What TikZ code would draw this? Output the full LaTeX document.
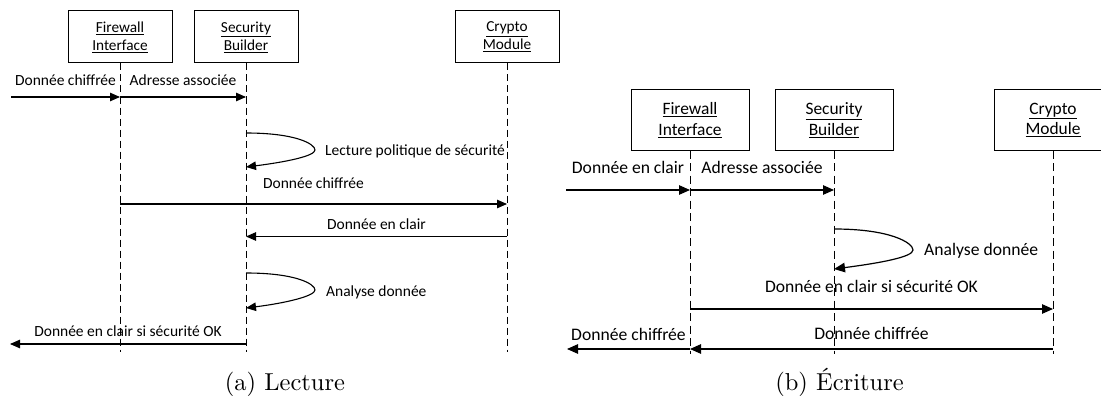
\documentclass[tikz,border=0pt]{standalone}
\usepackage{fontspec}
\newfontfamily\carlito{Carlito}
\usetikzlibrary{arrows.meta}
\tikzset{
  obj/.style={draw, fill=white, align=center, inner sep=0pt, line width=1pt},
  objA/.style={obj, minimum width=104pt, minimum height=52pt,
    font=\carlito\fontsize{15.3}{18}\selectfont},
  objB/.style={obj, minimum width=118pt, minimum height=60pt,
    font=\carlito\fontsize{17.4}{20.5}\selectfont},
  lifeA/.style={line width=1pt, dash pattern=on 7pt off 4pt},
  lifeB/.style={line width=1pt, dash pattern=on 8pt off 4.5pt},
  msgA/.style={line width=1.1pt, -{Triangle[length=10pt,width=8.5pt]}},
  msgB/.style={line width=1.2pt, -{Triangle[length=11pt,width=9.5pt]}},
  lblA/.style={font=\carlito\fontsize{15.5}{18}\selectfont, anchor=base, inner sep=0pt},
  lblB/.style={font=\carlito\fontsize{17.6}{20.5}\selectfont, anchor=base, inner sep=0pt},
  capt/.style={font=\fontsize{10}{12}\selectfont, anchor=base, inner sep=0pt,
    scale=2.45, transform shape},
}
\begin{document}
\begin{tikzpicture}[x=1pt,y=-1pt]
\useasboundingbox (0,0) rectangle (1101,396);
\clip (0,0) rectangle (1101,396);

% ---------- (a) Lecture ----------
\node[objA] (fwA) at (120,37) {\underline{Firewall}\\\underline{Interface}};
\node[objA] (sbA) at (246,37) {\underline{Security}\\\underline{Builder}};
\node[objA] (cmA) at (507,37) {\underline{Crypto}\\\underline{Module}};
\coordinate (endA) at (0,352);
\foreach \n in {fwA,sbA,cmA} \draw[lifeA] (\n.south) -- (\n.south |- endA);

\coordinate (rowA1) at (11,97);
\coordinate (loopA1s) at (246,133);
\coordinate (loopA1t) at (315,150);
\coordinate (loopA1e) at (246,167);
\coordinate (rowA2) at (0,204);
\coordinate (rowA3) at (0,236.5);
\coordinate (loopA2s) at (246,273);
\coordinate (loopA2t) at (315,290);
\coordinate (loopA2e) at (246,308);
\coordinate (rowA4) at (10,344);

\draw[msgA] (rowA1) -- (rowA1 -| fwA)
  node[lblA, midway, yshift=12pt] {Donnée chiffrée};
\draw[msgA] (rowA1 -| fwA) -- (rowA1 -| sbA)
  node[lblA, midway, yshift=12pt] {Adresse associée};
\draw[msgA] (loopA1s) .. controls +(50,0) and +(0,-6) .. (loopA1t)
  .. controls +(0,6) and +(40,-5) .. (loopA1e);
\node[lblA, anchor=base west] (lA1) at (325,155) {Lecture politique de sécurité};
\draw[msgA] (rowA2 -| fwA) -- (rowA2 -| cmA)
  node[lblA, midway, yshift=16pt] {Donnée chiffrée};
\draw[msgA] (rowA3 -| cmA) -- (rowA3 -| sbA)
  node[lblA, midway, yshift=7pt] {Donnée en clair};
\draw[msgA] (loopA2s) .. controls +(50,0) and +(0,-6) .. (loopA2t)
  .. controls +(0,6) and +(40,-5) .. (loopA2e);
\node[lblA, anchor=base west] (lA2) at (326,296) {Analyse donnée};
\draw[msgA] (rowA4 -| sbA) -- (rowA4)
  node[lblA, midway, yshift=8pt] {Donnée en clair si sécurité OK};

\node[capt] (captA) at (285,390) {(a) Lecture};

% ---------- (b) Écriture ----------
\node[objB] (fwB) at (690,120) {\underline{Firewall}\\\underline{Interface}};
\node[objB] (sbB) at (834,120) {\underline{Security}\\\underline{Builder}};
\node[objB] (cmB) at (1053,120) {\underline{Crypto}\\\underline{Module}};
\coordinate (endB) at (0,354);
\foreach \n in {fwB,sbB,cmB} \draw[lifeB] (\n.south) -- (\n.south |- endB);

\coordinate (rowB1) at (566,190);
\coordinate (loopBs) at (834,229);
\coordinate (loopBt) at (913,250);
\coordinate (loopBe) at (834,269);
\coordinate (rowB2) at (0,309);
\coordinate (rowB3) at (567,349);

\draw[msgB] (rowB1) -- (rowB1 -| fwB)
  node[lblB, midway, yshift=17pt] {Donnée en clair};
\draw[msgB] (rowB1 -| fwB) -- (rowB1 -| sbB)
  node[lblB, midway, yshift=17pt] {Adresse associée};
\draw[msgB] (loopBs) .. controls +(57,0) and +(0,-7) .. (loopBt)
  .. controls +(0,7) and +(46,-6) .. (loopBe);
\node[lblB, anchor=base west] (lB1) at (924,255) {Analyse donnée};
\draw[msgB] (rowB2 -| fwB) -- (rowB2 -| cmB)
  node[lblB, midway, yshift=17pt] {Donnée en clair si sécurité OK};
\draw[msgB] (rowB3 -| cmB) -- (rowB3 -| fwB)
  node[lblB, midway, yshift=10pt] {Donnée chiffrée};
\draw[msgB] (rowB3 -| fwB) -- (rowB3)
  node[lblB, midway, yshift=9pt] {Donnée chiffrée};

\node[capt] (captB) at (839.5,390) {(b) Écriture};
\end{tikzpicture}
\end{document}
